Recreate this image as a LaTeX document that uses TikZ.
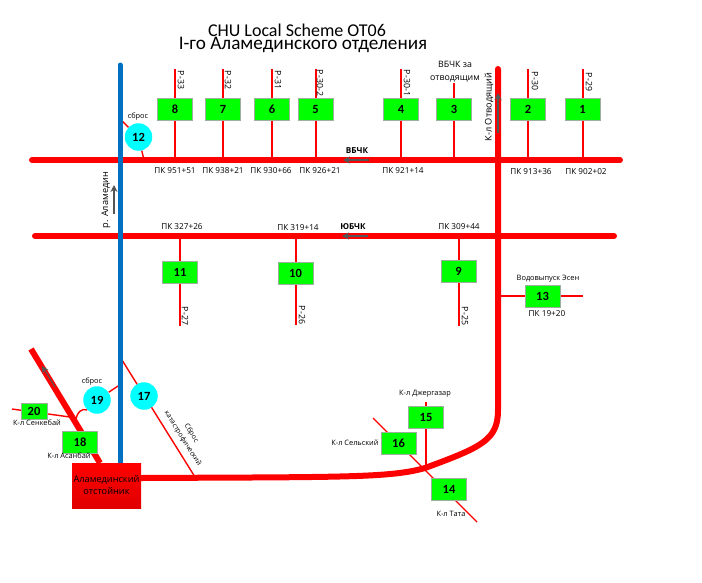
\documentclass[tikz,border=0pt]{standalone}
\usepackage{fontspec}
\setmainfont{Carlito}
\newfontfamily\labelfont{Open Sans}
\usetikzlibrary{arrows.meta,backgrounds}
\definecolor{rivercol}{HTML}{0070C0}
\definecolor{gatecol}{HTML}{00FF00}
\definecolor{poolcol}{HTML}{00FFFF}
\definecolor{edgecol}{HTML}{9DB09D}
\definecolor{stemcol}{HTML}{555555}
\tikzset{
  gate/.style={rectangle,draw=edgecol,line width=0.8pt,fill=gatecol,minimum width=35pt,minimum height=22pt,inner sep=0pt,font=\fontsize{12.5}{12}\selectfont\bfseries},
  smallgate/.style={gate,minimum width=26pt,minimum height=16pt},
  pool/.style={circle,fill=poolcol,minimum size=27.5pt,inner sep=0pt,font=\fontsize{12.5}{12}\selectfont\bfseries},
  canal/.style={red,line width=6pt,line cap=round},
  branch/.style={red,line width=2pt},
  thinbranch/.style={red,line width=1.4pt},
  flow/.style={stemcol,line width=1.1pt,-{Stealth[length=7pt,width=7pt]}},
  lab/.style={inner sep=0pt,font=\labelfont\fontsize{8.2}{9}\selectfont},
  blab/.style={lab,font=\labelfont\fontsize{8.2}{9}\selectfont\bfseries},
  slab/.style={lab,font=\labelfont\fontsize{7.4}{8}\selectfont},
  rlab/.style={lab,font=\labelfont\fontsize{8.8}{13}\selectfont},
}
\begin{document}
\begin{tikzpicture}[x=1pt,y=-1pt]
\useasboundingbox (0,0) rectangle (702,582);
\node[inner sep=0pt,font=\fontsize{18}{18}\selectfont] (title1) at (297,30) {CHU Local Scheme OT06};
\node[inner sep=0pt,font=\fontsize{19.2}{18}\selectfont] (title2) at (303,45) {I-го Аламединского отделения};
% gates on the upper canal
\node[gate] (g8) at (175,109.5) {8};
\node[gate] (g7) at (223,109.5) {7};
\node[gate] (g6) at (272,109.5) {6};
\node[gate] (g5) at (315.5,109.5) {5};
\node[gate] (g4) at (401,109.5) {4};
\node[gate] (g3) at (454,109) {3};
\node[gate] (g2) at (528,109.5) {2};
\node[gate] (g1) at (582.5,109.5) {1};
% gates on the lower canal
\node[gate] (g11) at (180,272) {11};
\node[gate] (g10) at (295.5,273) {10};
\node[gate] (g9) at (458.5,271) {9};
\node[gate] (g13) at (542.5,296) {13};
\node[gate] (g15) at (426,417) {15};
\node[gate] (g16) at (398.5,443) {16};
\node[gate] (g14) at (449,489) {14};
\node[gate] (g18) at (80,442) {18};
\node[smallgate] (g20) at (34,411) {20};
\node[pool] (p12) at (138.5,137) {12};
\node[pool] (p19) at (97,400) {19};
\node[pool] (p17) at (144,396) {17};
\node[rectangle,top color=red,bottom color=red!88!black,minimum width=69pt,minimum height=45pt,inner sep=0pt,align=center,font=\labelfont\fontsize{9.2}{12}\selectfont] (res) at (106.5,485.5) {Аламединский\\отстойник};
% free ends
\coordinate (vL) at (32,160);
\coordinate (vR) at (620,160);
\coordinate (uL) at (35,236);
\coordinate (uR) at (614,236);
\coordinate (rT) at (120,65);
\coordinate (rB) at (120,463);
\coordinate (oT) at (498,69);
\coordinate (dT) at (31,349);
\coordinate (dB) at (100,463);
\coordinate (t8) at (175,69);
\coordinate (b8) at (175,160);
\coordinate (t7) at (223,69);
\coordinate (b7) at (223,160);
\coordinate (t6) at (272,69);
\coordinate (b6) at (272,160);
\coordinate (t5) at (315.5,69);
\coordinate (b5) at (315.5,160);
\coordinate (t4) at (401,69);
\coordinate (b4) at (401,160);
\coordinate (t3) at (454,83);
\coordinate (b3) at (454,160);
\coordinate (t2) at (528,69);
\coordinate (b2) at (528,160);
\coordinate (t1) at (582.5,69);
\coordinate (b1) at (582.5,160);
\coordinate (a11) at (180,236);
\coordinate (e11) at (180,326);
\coordinate (a10) at (295.5,236);
\coordinate (e10) at (295.5,325);
\coordinate (a9) at (458.5,236);
\coordinate (e9) at (458.5,326);
\coordinate (a13) at (498,296);
\coordinate (e13) at (583,296);
\coordinate (t15) at (426,402);
\coordinate (b15) at (426,468);
\coordinate (k1) at (373,418);
\coordinate (k2) at (477,522);
\coordinate (s1) at (122,360);
\coordinate (s2) at (195,477);
\coordinate (c12a) at (122,121);
\coordinate (c12b) at (144,160);
\coordinate (c20a) at (12,409);
\coordinate (c20b) at (70,417);
\coordinate (c19a) at (118,386);
\coordinate (c19b) at (76,419);
\begin{scope}[on background layer]
\draw[canal] (vL) -- (vR);
\draw[canal] (uL) -- (uR);
\draw[canal] (oT) -- (498,410) .. controls (498,440) and (482,447) .. (425,468) .. controls (390,478) and (340,477) .. (res.east |- 0,478);
\draw[canal,line cap=butt] (dT) -- (dB);
\draw[branch] (g8) -- (t8);
\draw[branch] (g8) -- (b8);
\draw[branch] (g7) -- (t7);
\draw[branch] (g7) -- (b7);
\draw[branch] (g6) -- (t6);
\draw[branch] (g6) -- (b6);
\draw[branch] (g5) -- (t5);
\draw[branch] (g5) -- (b5);
\draw[branch] (g4) -- (t4);
\draw[branch] (g4) -- (b4);
\draw[branch] (g3) -- (t3);
\draw[branch] (g3) -- (b3);
\draw[branch] (g2) -- (t2);
\draw[branch] (g2) -- (b2);
\draw[branch] (g1) -- (t1);
\draw[branch] (g1) -- (b1);
\draw[branch] (a11) -- (g11);
\draw[branch] (g11) -- (e11);
\draw[branch] (a10) -- (g10);
\draw[branch] (g10) -- (e10);
\draw[branch] (a9) -- (g9);
\draw[branch] (g9) -- (e9);
\draw[thinbranch] (a13) -- (g13);
\draw[thinbranch] (g13) -- (e13);
\draw[thinbranch] (t15) -- (b15);
\draw[thinbranch] (k1) -- (k2);
\draw[thinbranch] (s1) -- (s2);
\draw[thinbranch] (c12a) -- (p12);
\draw[thinbranch] (p12) -- (c12b);
\draw[thinbranch] (c20a) -- (c20b);
\draw[thinbranch] (c19a) -- (p19);
\draw[thinbranch] (p19.south west) .. controls (81,408) and (77,413) .. (c19b);
\draw[rivercol,line width=5pt,line cap=round] (rT) -- (rB);
\end{scope}
\draw[flow] (114,214) -- (114,185);
\draw[flow] (498,133) -- (498,93);
\draw[flow] (55,387) -- (42,366);
\draw[flow] (369,160) -- (343,160);
\draw[flow] (368,236) -- (342,236);
% texts
\node[rlab,rotate=-90] (l33) at (181,80) {Р-33};
\node[rlab,rotate=-90] (l32) at (228,80) {Р-32};
\node[rlab,rotate=-90] (l31) at (278,80) {Р-31};
\node[rlab,rotate=-90] (l302) at (320,83) {Р-30-2};
\node[rlab,rotate=-90] (l301) at (407,83) {Р-30-1};
\node[rlab,rotate=-90] (l30) at (535,81) {Р-30};
\node[rlab,rotate=-90] (l29) at (589,82) {Р-29};
\node[rlab,rotate=-90] (l27) at (185,316) {Р-27};
\node[rlab,rotate=-90] (l26) at (302,315) {Р-26};
\node[rlab,rotate=-90] (l25) at (465,316) {Р-25};
\node[lab] (pk8) at (175,171) {ПК 951+51};
\node[lab] (pk7) at (223,171) {ПК 938+21};
\node[lab] (pk6) at (271,171) {ПК 930+66};
\node[lab] (pk5) at (320,171) {ПК 926+21};
\node[lab] (pk4) at (403,171) {ПК 921+14};
\node[lab] (pk2) at (531,172) {ПК 913+36};
\node[lab] (pk1) at (586,172) {ПК 902+02};
\node[lab] (pk11) at (182,227) {ПК 327+26};
\node[lab] (pk10) at (298,228) {ПК 319+14};
\node[lab] (pk9) at (459,227) {ПК 309+44};
\node[lab] (pk13) at (547,314) {ПК 19+20};
\node[blab] (vbchk) at (357,151) {ВБЧК};
\node[blab] (ubchk) at (353,227) {ЮБЧК};
\node[rlab,align=center] (l3) at (455,71.5) {ВБЧК за\\отводящим};
\node[rlab,rotate=90,font=\labelfont\fontsize{9.2}{13}\selectfont] (lot) at (489,107) {К-л Отводящий};
\node[rlab,rotate=90,font=\labelfont\fontsize{9.2}{13}\selectfont] (lal) at (106,200) {р. Аламедин};
\node[slab] (s12) at (138,117) {сброс};
\node[slab] (s19) at (92,382) {сброс};
\node[slab,rotate=-58,align=center,font=\labelfont\fontsize{7}{10}\selectfont] (lkat) at (187,436) {Сброс\\катастрофический};
\node[slab] (l20) at (37,423) {К-л Сенкебай};
\node[slab] (l18) at (69,456) {К-л Асанбай};
\node[slab] (l13) at (548,279) {Водовыпуск Эсен};
\node[slab] (l15) at (425,394) {К-л Джергазар};
\node[slab] (l16) at (355,443) {К-л Сельский};
\node[slab] (l14) at (451,514) {К-л Тата};
\end{tikzpicture}
\end{document}
